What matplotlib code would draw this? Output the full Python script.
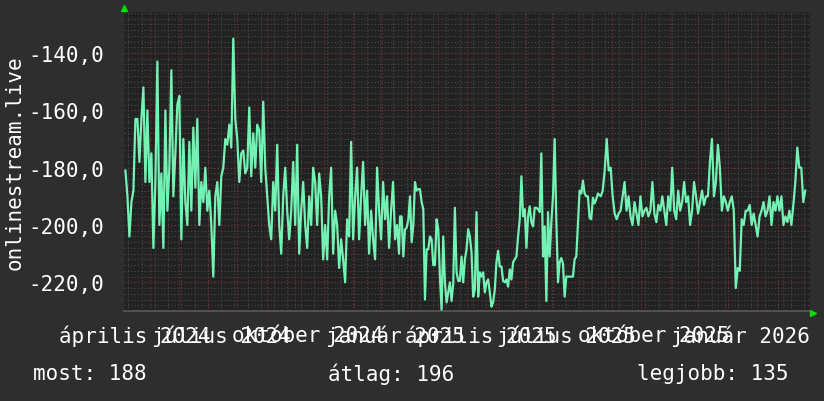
import matplotlib
matplotlib.use("Agg")
import matplotlib.pyplot as plt
import numpy as np
import pandas as pd

# Rank values (plotted negated), in three stretches
SEG1_START, SEG1_END = "2024-04-05", "2025-01-19"
SEG1 = [
    181, 190, 204, 192, 188, 163, 163, 178, 163, 152, 185, 160, 185, 175, 208, 185,
    143, 200, 182, 208, 160, 195, 180, 146, 190, 175, 158, 155, 205, 170, 192, 200,
    171, 195, 166, 187, 163, 200, 185, 192, 180, 195, 188, 200, 218, 190, 185, 200,
    183, 180, 170, 172, 165, 173, 135, 163, 170, 185, 175, 174, 182, 180, 159, 183,
    168, 180, 165, 167, 185, 157, 180, 190, 200, 205, 185, 195, 172, 200, 210, 190,
    180, 195, 205, 195, 178, 200, 172, 210, 195, 185, 200, 208, 190, 200, 180, 185,
    200, 182, 190, 212, 200, 212, 190, 180, 210, 195, 200, 215, 205, 212, 220, 198,
    204, 171, 205, 190, 180, 205, 190, 178, 200, 188, 210, 195, 205, 212, 180, 195,
    205, 185, 198, 190, 208, 195, 185, 205, 200, 210,
]
SEG2_START, SEG2_END = "2025-01-20", "2025-08-17"
SEG2 = [
    197, 197, 211, 201.5, 201, 198, 190, 206, 200, 185, 188,
    187.5, 187.5, 192, 194.5, 226, 208.5, 208.5, 204, 205, 214,
    214, 198, 201.5, 218, 229.5, 204, 220, 227, 223.5, 220,
    226.5, 220.5, 194, 216.5, 219.5, 219.5, 211, 220, 212, 208.5,
    201.5, 204, 209.5, 225, 222.5, 195.5, 225, 216.5, 218, 216.5,
    223.5, 220, 219, 223.5, 228.5, 227, 222.5, 213, 209, 214.5,
    214.5, 219.5, 220, 219, 221.5, 215.5, 219, 213, 212, 211,
    204, 198, 183, 197, 194.5, 208, 197, 193.5, 199, 200.5,
    194, 194, 194.5, 195.5, 175, 211, 200.5, 226.5, 195.5, 211,
    199, 190, 170, 198.5, 220, 213, 211.5, 213.5, 225, 218,
    218, 218, 218, 218, 212, 211, 199.5, 188, 189, 184.5,
    189, 190, 190, 197.5, 198, 190.5, 192.5, 191, 189,
]
SEG3_START, SEG3_END = "2025-08-20", "2026-03-24"
SEG3 = [
    190, 188,
    181, 170, 181, 180, 190, 196, 198, 196, 195, 190, 185, 195, 190, 197, 200, 192,
    196, 200, 190, 197, 195, 194, 197, 195, 185, 196, 199, 193, 195, 190, 195, 200,
    190, 195, 180, 195, 198, 188, 195, 192, 185, 192, 190, 200, 195, 185, 190, 196,
    192, 188, 193, 190, 190, 178, 170, 190, 185, 172, 180, 195, 190, 192, 195, 192,
    190, 195, 222, 215, 216, 198, 200, 195, 195, 193, 200, 196, 200, 204, 197, 195,
    192, 197, 195, 190, 200, 192, 195, 190, 195, 190, 200, 197, 199, 195, 200, 193,
    185, 173, 180, 180, 192, 188,
]
TICK_MONTHS = ["2024-04-01", "2024-07-01", "2024-10-01", "2025-01-01",
               "2025-04-01", "2025-07-01", "2025-10-01", "2026-01-01"]
TICK_LABELS = ["április 2024", "július 2024", "október 2024", "január 2025",
               "április 2025", "július 2025", "október 2025", "január 2026"]
Y_TICKS = [-140, -160, -180, -200, -220]
SUMMARY = [("most", 188), ("átlag", 196), ("legjobb", 135)]

BG = "#2e2e2e"
PLOT_BG = "#222222"
LINE = "#74f2b4"
FONT = "DejaVu Sans Mono"

dates = np.concatenate([
    pd.date_range(SEG1_START, SEG1_END, periods=len(SEG1)),
    pd.date_range(SEG2_START, SEG2_END, periods=len(SEG2)),
    pd.date_range(SEG3_START, SEG3_END, periods=len(SEG3)),
])
values = -np.array(SEG1 + SEG2 + SEG3, dtype=float)

fig = plt.figure(figsize=(8.24, 4.02), dpi=100, facecolor=BG)
ax = fig.add_axes([124 / 824, 1 - 312 / 402, 686 / 824, 299 / 402])
ax.set_facecolor(PLOT_BG)

ax.set_xlim(pd.Timestamp("2024-04-03 12:00"), pd.Timestamp("2026-03-29"))
ax.set_ylim(-230, -125.7)

# grid: minor every 2 units / 2 weeks, major every 20 units / month
for y in np.arange(-230, -125, 2):
    ax.axhline(y, color="#4a4a4a", lw=0.8, ls=(0, (1, 2)), zorder=1)
for y in Y_TICKS:
    ax.axhline(y, color="#7a3030", lw=0.8, ls=(0, (1, 2)), zorder=1.5)
for d in pd.date_range("2024-04-08", "2026-03-29", freq="14D"):
    ax.axvline(d, color="#4a4a4a", lw=0.8, ls=(0, (1, 2)), zorder=1)
for d in pd.date_range("2024-04-01", "2026-03-29", freq="MS"):
    ax.axvline(d, color="#7a3030", lw=0.8, ls=(0, (1, 2)), zorder=1.5)

ax.plot(dates, values, color=LINE, lw=1.6, zorder=3)

# labels centred about half a month after the tick (rrdtool style)
ticks = [pd.Timestamp(t) + pd.Timedelta(days=14) for t in TICK_MONTHS]
ax.set_xticks(ticks)
ax.set_xticklabels(TICK_LABELS, fontfamily=FONT, fontsize=15, color="white")
ax.set_yticks(Y_TICKS)
ax.set_yticklabels([f"{v},0" for v in Y_TICKS], fontfamily=FONT, fontsize=15,
                   color="white")
ax.tick_params(axis="x", length=0, pad=10)
ax.tick_params(axis="y", length=0, pad=14)

for s in ["top", "right", "left"]:
    ax.spines[s].set_visible(False)
ax.spines["bottom"].set_color("#5a5a5a")
ax.spines["bottom"].set_linewidth(1.2)

# axis arrows
ax.plot([0.0], [1.012], marker="^", color="#00e000", ms=5, clip_on=False,
        transform=ax.transAxes, zorder=5)
ax.plot([1.004], [-0.006], marker=">", color="#00e000", ms=5, clip_on=False,
        transform=ax.transAxes, zorder=5)

fig.text(15 / 824, 1 - 163 / 402, "onlinestream.live", rotation=90,
         ha="center", va="center", fontfamily=FONT, fontsize=15, color="white")

xs = [33, 328, 637]
for x, (name, val) in zip(xs, SUMMARY):
    fig.text(x / 824, 1 - 374 / 402, f"{name}: {val}", ha="left", va="center",
             fontfamily=FONT, fontsize=15, color="white")

fig.savefig("out.png", dpi=100, facecolor=BG)
